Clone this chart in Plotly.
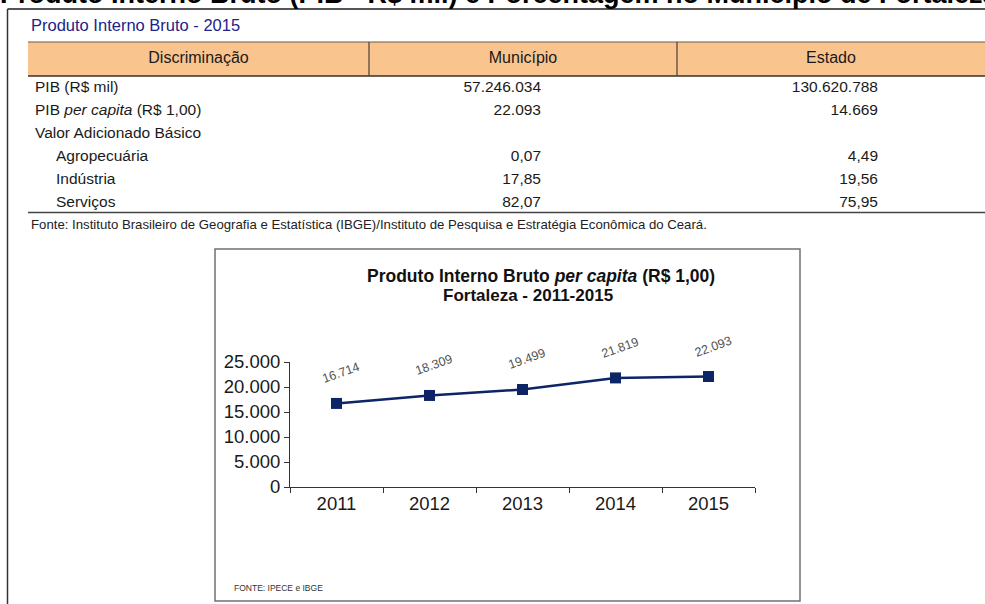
import plotly.graph_objects as go

W, H = 985, 604

def px(x):
    return x / W

def py(y):
    return 1 - y / H

# ---------------- data ----------------
page_heading = "Produto Interno Bruto (PIB - R$ mil) e Porcentagem no Município de Fortaleza"
table_title = "Produto Interno Bruto - 2015"
table_header = ["Discriminação", "Município", "Estado"]
row_labels = ["PIB (R$ mil)", "PIB <i>per capita</i> (R$ 1,00)", "Valor Adicionado Básico",
              "Agropecuária", "Indústria", "Serviços"]
row_indent = [0, 0, 0, 1, 1, 1]
municipio_vals = ["57.246.034", "22.093", "", "0,07", "17,85", "82,07"]
estado_vals = ["130.620.788", "14.669", "", "4,49", "19,56", "75,95"]
table_source = ("Fonte: Instituto Brasileiro de Geografia e Estatística (IBGE)/Instituto de Pesquisa "
                "e Estratégia Econômica do Ceará.")

years = ["2011", "2012", "2013", "2014", "2015"]
pib_per_capita = [16714, 18309, 19499, 21819, 22093]
y_ticks = [0, 5000, 10000, 15000, 20000, 25000]
chart_title_1 = "<b>Produto Interno Bruto <i>per capita</i> (R$ 1,00)</b>"
chart_title_2 = "<b>Fortaleza - 2011-2015</b>"
chart_source = "FONTE: IPECE e IBGE"

FONT = "Liberation Sans, Arial, sans-serif"
NAVY = "#0d2466"
TXT = "#1a1a1a"
PEACH = "#FAC48F"

# table geometry (pixels); columns measured from the table's left edge at x=28
TBL_L, TBL_SEP1, TBL_SEP2 = 28, 369, 677
HEAD_TOP, HEAD_BOT = 42, 76
COL_LABEL, COL_LABEL_INDENT, COL_MUN, COL_EST = 7, 28, 513, 850
HEAD_CENTERS = [(TBL_L + TBL_SEP1) / 2 - TBL_L, (TBL_SEP1 + TBL_SEP2) / 2 - TBL_L,
                (TBL_SEP2 + W) / 2 - TBL_L]

fig = go.Figure()

# ---------------- table header text ----------------
fig.add_trace(go.Scatter(
    x=HEAD_CENTERS, y=[0] * len(table_header), text=table_header, mode="text",
    textposition="middle center", textfont=dict(family=FONT, size=16, color=TXT),
    xaxis="x2", yaxis="y3", cliponaxis=False, hoverinfo="skip", showlegend=False,
))

# ---------------- table body (text on a hidden row/column axis) ----------------
rows = list(range(len(row_labels)))
label_x = [COL_LABEL_INDENT if ind else COL_LABEL for ind in row_indent]
body_font = dict(family=FONT, size=15.5, color=TXT)
fig.add_trace(go.Scatter(
    x=label_x, y=rows, text=row_labels, mode="text", textposition="middle right",
    textfont=body_font, xaxis="x2", yaxis="y2", cliponaxis=False,
    hoverinfo="skip", showlegend=False,
))
fig.add_trace(go.Scatter(
    x=[COL_MUN] * len(rows), y=rows, text=municipio_vals, mode="text", textposition="middle left",
    textfont=body_font, xaxis="x2", yaxis="y2", cliponaxis=False,
    hoverinfo="skip", showlegend=False,
))
fig.add_trace(go.Scatter(
    x=[COL_EST] * len(rows), y=rows, text=estado_vals, mode="text", textposition="middle left",
    textfont=body_font, xaxis="x2", yaxis="y2", cliponaxis=False,
    hoverinfo="skip", showlegend=False,
))

# ---------------- line chart ----------------
fig.add_trace(go.Scatter(
    x=years, y=pib_per_capita, mode="lines+markers",
    line=dict(color=NAVY, width=2.5),
    marker=dict(symbol="square", size=11, color=NAVY),
    hoverinfo="skip", showlegend=False,
))

def fmt(v):
    return f"{v:,}".replace(",", ".")

annotations = []
for i, v in enumerate(pib_per_capita):
    annotations.append(dict(
        x=i, y=v, xref="x", yref="y", text=fmt(v), showarrow=False,
        textangle=-20, xshift=4, yshift=30,
        font=dict(family=FONT, size=12.5, color="#505050"),
    ))

annotations += [
    dict(x=px(-2), y=py(-6), xref="paper", yref="paper", xanchor="left", yanchor="middle",
         text="<b>" + page_heading + "</b>", showarrow=False,
         font=dict(family=FONT, size=27, color="#000000")),
    dict(x=px(29), y=py(25), xref="paper", yref="paper", xanchor="left", yanchor="middle",
         text=table_title, showarrow=False,
         font=dict(family=FONT, size=16.5, color="#22228a")),
    dict(x=px(29), y=py(224), xref="paper", yref="paper", xanchor="left", yanchor="middle",
         text=table_source, showarrow=False,
         font=dict(family=FONT, size=13.2, color="#222222")),
    dict(x=px(541), y=py(276), xref="paper", yref="paper", xanchor="center", yanchor="middle",
         text=chart_title_1, showarrow=False,
         font=dict(family=FONT, size=17.5, color="#111111")),
    dict(x=px(528), y=py(295), xref="paper", yref="paper", xanchor="center", yanchor="middle",
         text=chart_title_2, showarrow=False,
         font=dict(family=FONT, size=17, color="#111111")),
    dict(x=px(232), y=py(588), xref="paper", yref="paper", xanchor="left", yanchor="middle",
         text=chart_source, showarrow=False,
         font=dict(family=FONT, size=8.5, color="#333333")),
]

shapes = [
    # table header band
    dict(type="rect", xref="paper", yref="paper", layer="below",
         x0=px(TBL_L), x1=1, y0=py(HEAD_BOT), y1=py(HEAD_TOP),
         fillcolor=PEACH, line=dict(width=0)),
    dict(type="line", xref="paper", yref="paper", x0=px(TBL_L), x1=1,
         y0=py(HEAD_TOP), y1=py(HEAD_TOP), line=dict(color="#6a5a4a", width=1)),
    dict(type="line", xref="paper", yref="paper", x0=px(TBL_L), x1=1,
         y0=py(HEAD_BOT), y1=py(HEAD_BOT), line=dict(color="#3a3028", width=1.6)),
    dict(type="line", xref="paper", yref="paper", x0=px(TBL_SEP1), x1=px(TBL_SEP1),
         y0=py(HEAD_BOT), y1=py(HEAD_TOP), line=dict(color="#4a3f35", width=1.2)),
    dict(type="line", xref="paper", yref="paper", x0=px(TBL_SEP2), x1=px(TBL_SEP2),
         y0=py(HEAD_BOT), y1=py(HEAD_TOP), line=dict(color="#4a3f35", width=1.2)),
    # document frame
    dict(type="line", xref="paper", yref="paper", x0=px(7.5), x1=1, y0=py(9), y1=py(9),
         line=dict(color="#555555", width=2)),
    dict(type="line", xref="paper", yref="paper", x0=px(7.5), x1=px(7.5), y0=py(9), y1=0,
         line=dict(color="#333333", width=1.5)),
    # table bottom rule
    dict(type="line", xref="paper", yref="paper", x0=px(TBL_L), x1=1, y0=py(212.5), y1=py(212.5),
         line=dict(color="#444444", width=1.5)),
    # chart box
    dict(type="rect", xref="paper", yref="paper", x0=px(215), x1=px(800), y0=py(249), y1=py(601),
         line=dict(color="#707070", width=1.5), fillcolor="rgba(0,0,0,0)"),
]

fig.update_layout(
    width=W, height=H,
    margin=dict(l=0, r=0, t=0, b=0, pad=0, autoexpand=False),
    paper_bgcolor="white", plot_bgcolor="rgba(0,0,0,0)",
    separators=",.",
    showlegend=False,
    font=dict(family=FONT),
    xaxis=dict(
        domain=[px(290), px(755)], type="category", range=[-0.5, 4.5],
        showline=True, linecolor="#333333", linewidth=1,
        ticks="outside", ticklen=5, tickcolor="#333333", tickson="boundaries",
        showgrid=False, zeroline=False,
        tickfont=dict(family=FONT, size=18.5, color=TXT),
    ),
    yaxis=dict(
        domain=[py(487), py(362)], range=[0, 25000],
        tickvals=y_ticks, tickformat=",d",
        showline=True, linecolor="#333333", linewidth=1,
        ticks="outside", ticklen=5, tickcolor="#333333",
        showgrid=False, zeroline=False,
        tickfont=dict(family=FONT, size=18.5, color=TXT),
    ),
    xaxis2=dict(domain=[px(TBL_L), 1], range=[0, W - TBL_L], visible=False, anchor="y2"),
    yaxis2=dict(domain=[py(214.5), py(76.5)], range=[5.5, -0.5], visible=False, anchor="x2"),
    yaxis3=dict(domain=[py(HEAD_BOT), py(HEAD_TOP)], range=[-0.5, 0.5], visible=False, anchor="x2"),
    annotations=annotations,
    shapes=shapes,
)

fig.write_html(
    "out.html",
    config={"displayModeBar": False, "staticPlot": True},
    post_script="document.body.style.margin='0';document.body.style.overflow='hidden';",
)
